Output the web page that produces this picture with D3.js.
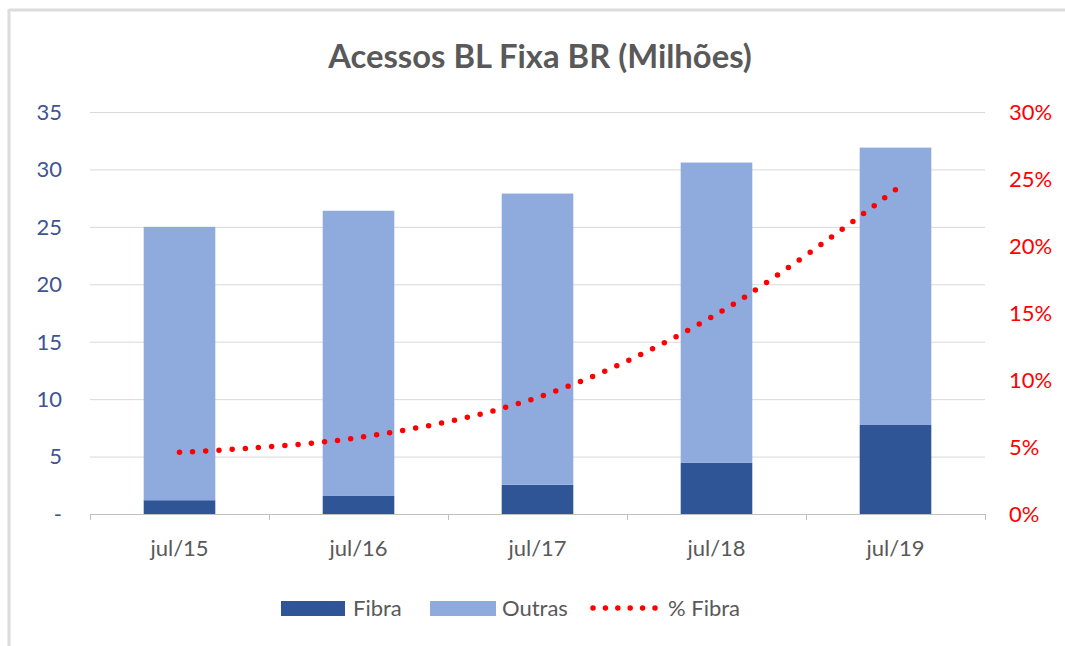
<!DOCTYPE html>
<html><head><meta charset="utf-8">
<script src="https://cdn.jsdelivr.net/npm/d3@7"></script>
<style>html,body{margin:0;padding:0;background:#fff}svg{display:block}</style>
</head><body>
<svg id="c" width="1065" height="646"></svg>
<script>
const categories = ["jul/15","jul/16","jul/17","jul/18","jul/19"];
const fibra  = [1.2, 1.57, 2.55, 4.47, 7.75];
const outras = [23.8, 24.83, 25.35, 26.13, 24.15];
const pctFibra = [0.046, 0.057, 0.087, 0.149, 0.242];
const leftTicks = [0,5,10,15,20,25,30,35];
const rightTicks = [0,0.05,0.10,0.15,0.20,0.25,0.30];
const title = "Acessos BL Fixa BR (Milhões)";
const seriesNames = ["Fibra","Outras","% Fibra"];

const FONT = "Lato, 'Open Sans', sans-serif";
const FS = 22;
const cFibra = "#2f5597", cOutras = "#8faadc", cLine = "#ff0000";
const svg = d3.select("#c");

// frame (top & left)
svg.append("line").attr("x1",9).attr("x2",1065).attr("y1",10).attr("y2",10).attr("stroke","#dcdcdc").attr("stroke-width",3);
svg.append("line").attr("x1",9).attr("x2",9).attr("y1",9).attr("y2",646).attr("stroke","#dcdcdc").attr("stroke-width",3);

const x = d3.scaleBand().domain(categories).range([90,985]).paddingInner(0.6).paddingOuter(0.3);
const y = d3.scaleLinear().domain([0,35]).range([514,112]);
const y2 = d3.scaleLinear().domain([0,0.30]).range([514,112]);

// gridlines
svg.append("g").selectAll("line").data(leftTicks.filter(d=>d>0)).join("line")
  .attr("x1",90).attr("x2",985).attr("y1",d=>y(d)+0.5).attr("y2",d=>y(d)+0.5)
  .attr("stroke","#d9d9d9").attr("stroke-width",1);

// bars
const stacked = categories.map((c,i)=>({c, f:fibra[i], o:outras[i]}));
svg.append("g").selectAll("rect").data(stacked).join("rect")
  .attr("x",d=>x(d.c)).attr("width",x.bandwidth())
  .attr("y",d=>y(d.f)).attr("height",d=>y(0)-y(d.f)).attr("fill",cFibra);
svg.append("g").selectAll("rect").data(stacked).join("rect")
  .attr("x",d=>x(d.c)).attr("width",x.bandwidth())
  .attr("y",d=>y(d.f+d.o)).attr("height",d=>y(d.f)-y(d.f+d.o)).attr("fill",cOutras);

// x axis line and ticks
const ax = svg.append("g").attr("transform","translate(0,514)");
ax.append("line").attr("x1",90).attr("x2",985).attr("y1",0.5).attr("y2",0.5).attr("stroke","#bfbfbf");
const step = x.step();
const bounds = d3.range(categories.length+1).map(i=>90+i*step);
ax.selectAll("line.t").data(bounds).join("line").attr("class","t")
  .attr("x1",d=>Math.round(d)+0.5).attr("x2",d=>Math.round(d)+0.5).attr("y1",0).attr("y2",6).attr("stroke","#bfbfbf");
ax.selectAll("text").data(categories).join("text")
  .attr("x",d=>x(d)+x.bandwidth()/2).attr("y",42).attr("text-anchor","middle")
  .attr("font-family",FONT).attr("font-size",FS).attr("fill","#595959").text(d=>d);

// left axis labels
svg.append("g").selectAll("text").data(leftTicks).join("text")
  .attr("x",62).attr("y",d=>y(d)).attr("dy","0.36em").attr("text-anchor","end")
  .attr("font-family",FONT).attr("font-size",FS).attr("fill","#3f5491")
  .text(d=>d===0?"-":d3.format("d")(d));

// right axis labels
svg.append("g").selectAll("text").data(rightTicks).join("text")
  .attr("x",1009).attr("y",d=>y2(d)).attr("dy","0.36em").attr("text-anchor","start")
  .attr("font-family",FONT).attr("font-size",FS).attr("fill",cLine)
  .text(d=>d3.format(".0%")(d));

// line
const line = d3.line().x((d,i)=>x(categories[i])+x.bandwidth()/2).y(d=>y2(d)).curve(d3.curveCatmullRom.alpha(0.5));
svg.append("path").attr("d",line(pctFibra)).attr("fill","none").attr("stroke",cLine)
  .attr("stroke-width",5.5).attr("stroke-linecap","round").attr("stroke-dasharray","0,13.2");

// title
const t = svg.append("text").attr("x",540).attr("y",68).attr("text-anchor","middle")
  .attr("font-family",FONT).attr("font-weight","bold").attr("font-size",26).attr("fill","#595959").text(title);
const tw = t.node().getComputedTextLength();
t.attr("font-size", 26*424/tw);

// legend
const lg = svg.append("g");
lg.append("rect").attr("x",281).attr("y",601).attr("width",64).attr("height",15).attr("fill",cFibra);
lg.append("text").attr("x",353).attr("y",608).attr("dy","0.36em").attr("font-family",FONT).attr("font-size",FS).attr("fill","#595959").text(seriesNames[0]);
lg.append("rect").attr("x",430).attr("y",601).attr("width",66).attr("height",15).attr("fill",cOutras);
lg.append("text").attr("x",502).attr("y",608).attr("dy","0.36em").attr("font-family",FONT).attr("font-size",FS).attr("fill","#595959").text(seriesNames[1]);
lg.append("line").attr("x1",593).attr("x2",656).attr("y1",608).attr("y2",608).attr("stroke",cLine)
  .attr("stroke-width",5.5).attr("stroke-linecap","round").attr("stroke-dasharray","0,12.4");
lg.append("text").attr("x",668).attr("y",608).attr("dy","0.36em").attr("font-family",FONT).attr("font-size",FS).attr("fill","#595959").text(seriesNames[2]);
</script>
</body></html>
